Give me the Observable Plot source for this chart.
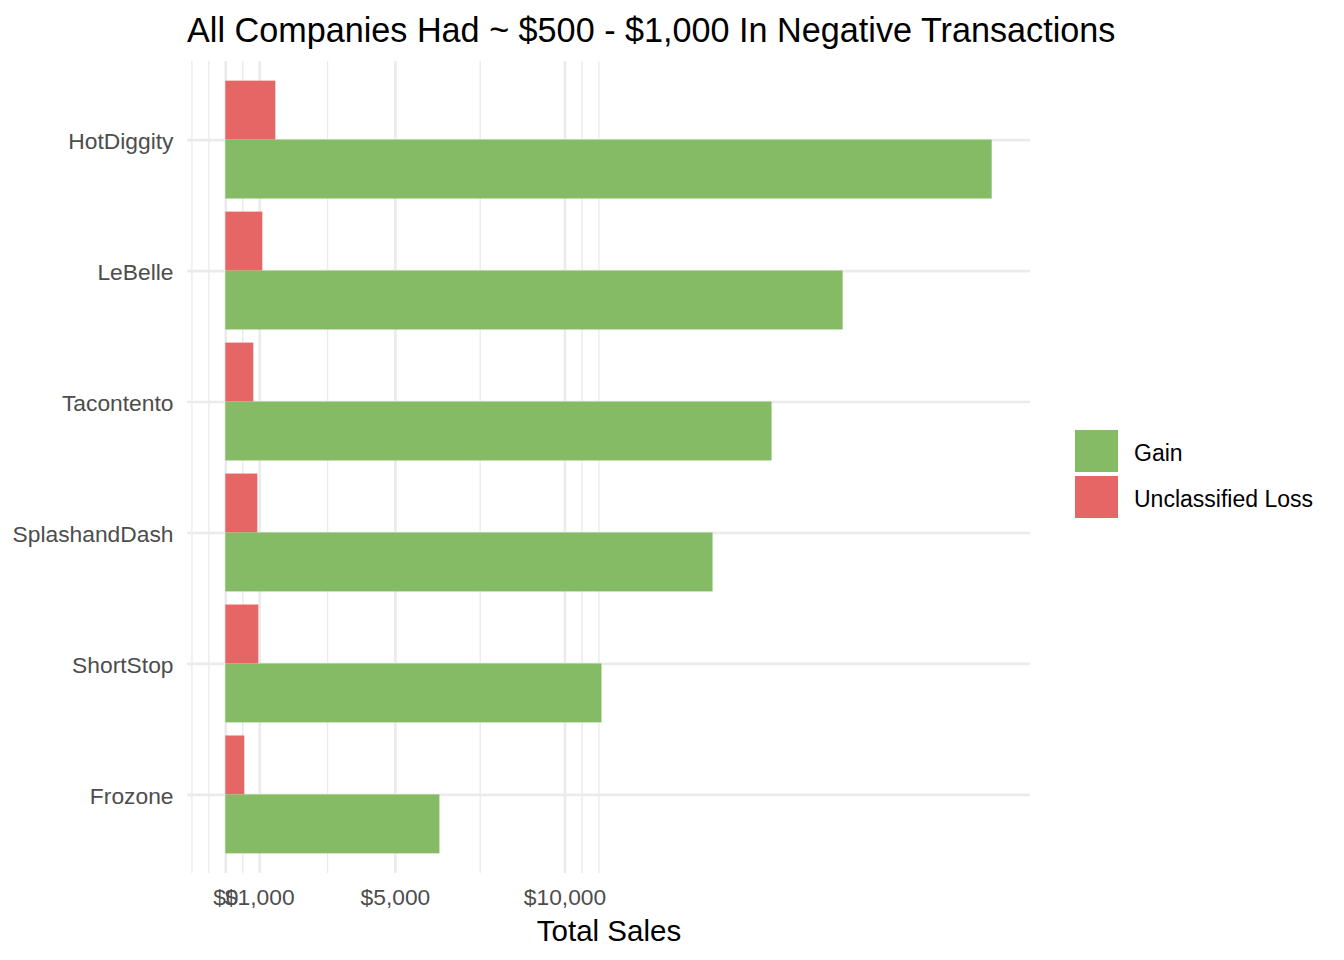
<!DOCTYPE html>
<html>
<head>
<meta charset="utf-8">
<script src="https://cdn.jsdelivr.net/npm/d3@7"></script>
<script src="https://cdn.jsdelivr.net/npm/@observablehq/plot@0.6"></script>
<style>
  html, body { margin: 0; padding: 0; background: #ffffff; }
  body { font-family: "Liberation Sans", Arial, sans-serif; }
  #wrap { position: relative; width: 1344px; height: 960px; }
  #title { position: absolute; left: 187px; top: 13px; font-size: 34.2px; line-height: 1; color: #000; white-space: nowrap; }
  #spacer { height: 56px; }
  #legend { position: absolute; left: 1075px; top: 430px; }
  .row { display: flex; align-items: center; height: 42px; margin-bottom: 4px; }
  .key { width: 43px; height: 42px; }
  .lab { margin-left: 16px; font-size: 23px; color: #000; white-space: nowrap; position: relative; top: 2px; }
</style>
</head>
<body>
<div id="wrap">
  <div id="spacer"><div id="title"></div></div>
  <div id="chart"></div>
  <div id="legend"></div>
</div>
<script>
// ---- data ----
const titleText = "All Companies Had ~ $500 - $1,000 In Negative Transactions";
const xLabel = "Total Sales";
const companies = ["HotDiggity", "LeBelle", "Tacontento", "SplashandDash", "ShortStop", "Frozone"];
const gain = [22596, 18201, 16106, 14366, 11091, 6313];
const loss = [1475, 1091, 826, 944, 973, 560];
const types = ["Gain", "Unclassified Loss"];
const typeColors = ["#85BB65", "#E66666"];
const majorBreaks = [0, 1000, 5000, 10000];
const minorBreaks = [-1000, -500, 500, 3000, 7500, 10500, 11000];

// ---- tables ----
const gainData = companies.map((c, i) => ({company: c, type: types[0], value: gain[i]}));
const lossData = companies.map((c, i) => ({company: c, type: types[1], value: loss[i]}));

// ---- layout ----
const W = 1344, H = 904;
const mt = 5, mb = 87, ml = 187, mr = 314;
const padInner = 0.1, padOuter = 0.15;
const step = (H - mt - mb) / (companies.length - padInner + 2 * padOuter);
const half = step * (1 - padInner) / 2;

const xmax = d3.max(gain);
const xpad = 0.05 * xmax;
const grid = "#EBEBEB";
const textGrey = "#4D4D4D";

document.getElementById("title").textContent = titleText;

const chart = Plot.plot({
  width: W,
  height: H,
  marginTop: mt,
  marginBottom: mb,
  marginLeft: ml,
  marginRight: mr,
  style: {fontFamily: "'Liberation Sans', Arial, sans-serif", fontSize: "22.8px", background: "#ffffff"},
  x: {domain: [-xpad, xmax + xpad]},
  y: {domain: companies, paddingInner: padInner, paddingOuter: padOuter, round: false},
  color: {domain: types, range: typeColors},
  marks: [
    Plot.ruleX(minorBreaks, {x: d => d, stroke: grid, strokeWidth: 1.4}),
    Plot.ruleX(majorBreaks, {x: d => d, stroke: grid, strokeWidth: 2.7}),
    Plot.gridY({stroke: grid, strokeOpacity: 1, strokeWidth: 2.7}),
    Plot.barX(lossData, {x: "value", y: "company", fill: "type", insetBottom: half}),
    Plot.barX(gainData, {x: "value", y: "company", fill: "type", insetTop: half}),
    Plot.axisX({ticks: majorBreaks, tickFormat: d3.format("$,"), tickSize: 0, tickPadding: 15.5, label: null, color: textGrey}),
    Plot.axisY({tickSize: 0, tickPadding: 14, dy: 1.5, label: null, color: textGrey}),
    Plot.text([xLabel], {text: d => d, frameAnchor: "bottom", lineAnchor: "bottom", dy: 67, fontSize: 29.5, fill: "#000000"})
  ]
});
document.getElementById("chart").appendChild(chart);

// ---- legend ----
const legend = document.getElementById("legend");
types.forEach((t, i) => {
  const row = document.createElement("div");
  row.className = "row";
  const key = document.createElement("div");
  key.className = "key";
  key.style.background = typeColors[i];
  const lab = document.createElement("div");
  lab.className = "lab";
  lab.textContent = t;
  row.appendChild(key);
  row.appendChild(lab);
  legend.appendChild(row);
});
</script>
</body>
</html>
